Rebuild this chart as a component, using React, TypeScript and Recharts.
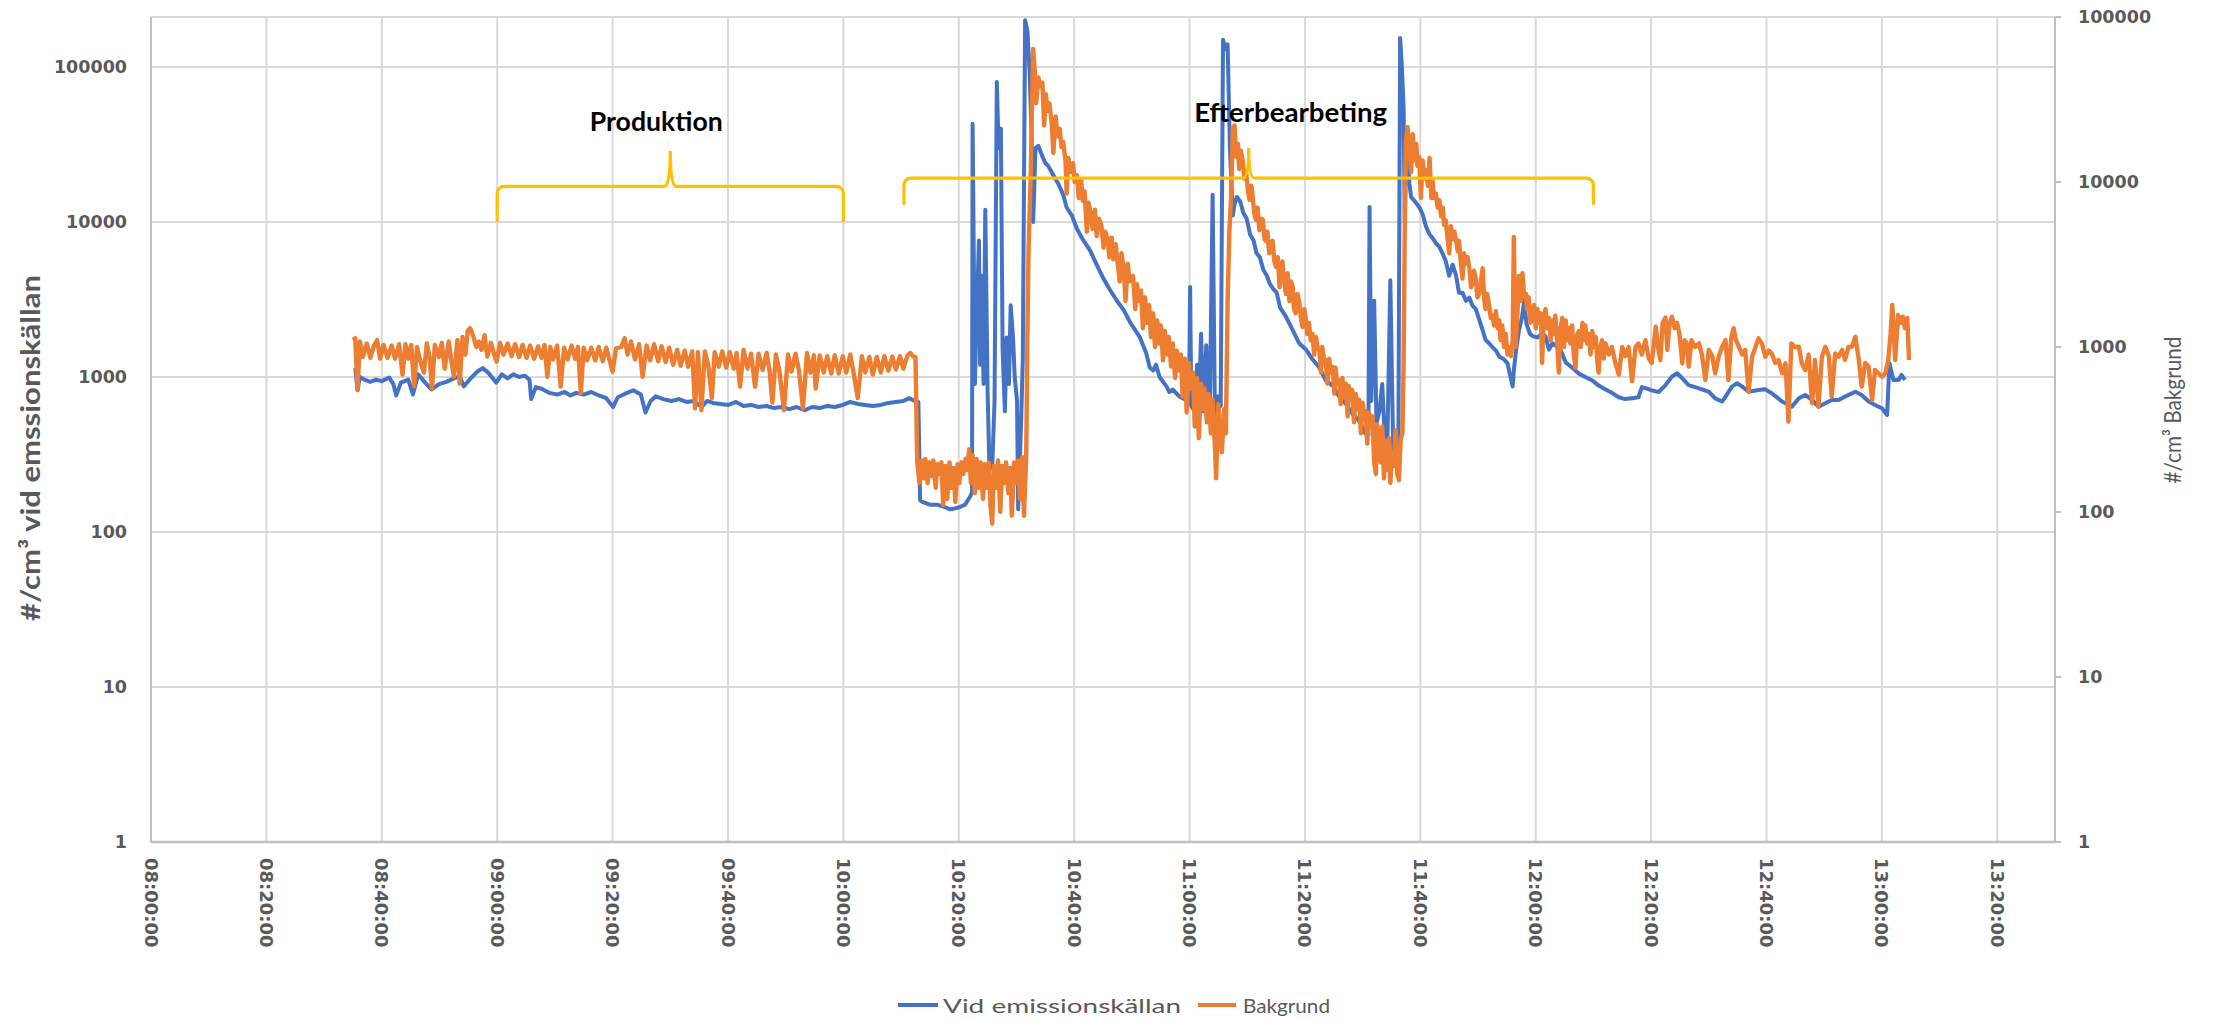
import { CartesianGrid, Line, LineChart, ReferenceLine, XAxis, YAxis } from "recharts"

// x positions are minutes after 08:00:00
const xTicks = [0, 20, 40, 60, 80, 100, 120, 140, 160, 180, 200, 220, 240, 260, 280, 300, 320]
const xTickLabels = [
  "08:00:00", "08:20:00", "08:40:00", "09:00:00", "09:20:00", "09:40:00", "10:00:00", "10:20:00",
  "10:40:00", "11:00:00", "11:20:00", "11:40:00", "12:00:00", "12:20:00", "12:40:00", "13:00:00", "13:20:00",
]
const leftTicks = [1, 10, 100, 1000, 10000, 100000]
const rightTicks = [1, 10, 100, 1000, 10000, 100000]

const seriesNames = ["Vid emissionskällan", "Bakgrund"]

const blueMinutes = [
  35.4, 35.8, 36.2, 37.0, 38.0, 39.0, 40.0, 41.3, 42.0, 42.5, 43.3, 44.6, 45.4, 46.3, 47.3, 48.6, 49.9, 51.2,
  52.5, 53.5, 54.2, 55.2, 56.5, 57.5, 58.5, 59.8, 60.8, 61.8, 62.8, 63.8, 64.8, 65.6, 65.9, 66.7, 67.7, 69.0,
  70.4, 71.7, 72.7, 73.7, 75.0, 76.3, 77.6, 78.9, 80.1, 80.9, 82.2, 83.6, 84.9, 85.7, 86.6, 87.5, 88.8, 90.2,
  91.5, 92.8, 94.1, 95.4, 96.4, 97.4, 98.7, 100.1, 101.4, 102.7, 104.0, 105.3, 106.7, 108.0, 109.3, 110.6,
  111.9, 113.3, 114.6, 115.9, 117.2, 118.5, 119.9, 121.2, 122.5, 123.8, 125.1, 126.5, 127.8, 129.1, 130.4,
  131.4, 132.4, 133.0, 133.3, 133.9, 135.0, 136.2, 137.3, 138.5, 139.4, 140.2, 141.1, 142.0, 142.3, 142.4,
  142.8, 143.1, 143.5, 143.7, 144.0, 144.3, 144.6, 145.0, 145.3, 145.8, 146.2, 146.6, 146.9, 147.3, 147.6,
  148.0, 148.3, 148.7, 149.0, 149.4, 149.7, 150.1, 150.3, 150.8, 151.1, 151.5, 151.9, 152.3, 152.6, 152.9,
  153.3, 153.8, 154.4, 155.0, 155.5, 156.4, 157.3, 158.1, 158.7, 159.6, 160.5, 161.6, 162.8, 163.9, 165.1,
  166.2, 167.4, 168.6, 169.7, 171.4, 172.5, 173.1, 173.7, 174.2, 174.8, 176.0, 176.5, 177.1, 178.3, 179.4,
  179.9, 180.1, 180.3, 180.9, 181.3, 181.6, 182.0, 182.4, 182.9, 183.5, 184.0, 184.4, 184.9, 185.4, 185.8,
  186.2, 186.6, 187.0, 187.5, 187.8, 188.2, 188.8, 189.3, 189.9, 190.5, 191.1, 191.6, 192.2, 192.8, 193.4,
  193.9, 194.5, 195.1, 195.7, 196.7, 197.9, 199.0, 200.2, 201.3, 202.5, 203.6, 204.8, 205.9, 207.1, 208.2,
  209.4, 210.5, 211.0, 211.2, 211.5, 212.0, 212.4, 212.9, 213.4, 213.8, 214.3, 214.8, 215.3, 215.7, 216.2,
  216.5, 216.8, 217.1, 217.3, 217.6, 218.1, 218.4, 219.1, 219.8, 220.4, 221.0, 221.6, 222.1, 222.7, 223.3,
  223.9, 224.4, 225.0, 225.6, 226.2, 226.7, 227.3, 227.9, 228.5, 229.0, 229.6, 230.2, 230.8, 231.3, 231.9,
  232.5, 233.1, 233.7, 234.5, 235.1, 235.5, 236.0, 236.2, 236.6, 237.1, 237.6, 238.0, 238.4, 239.0, 239.5,
  240.3, 241.1, 241.7, 242.3, 242.9, 243.4, 244.3, 245.2, 246.3, 247.5, 248.6, 249.8, 250.9, 252.1, 253.2,
  254.4, 255.5, 256.7, 257.8, 258.4, 259.3, 260.1, 261.3, 262.5, 263.6, 264.5, 265.4, 266.5, 268.3, 270.0,
  271.1, 272.3, 272.9, 274.0, 274.9, 275.8, 276.9, 278.6, 279.8, 280.9, 282.7, 284.4, 285.6, 286.7, 287.9,
  289.0, 290.2, 291.3, 292.5, 293.6, 295.4, 296.5, 297.7, 298.8, 300.0, 300.9, 301.3, 302.0, 302.9, 303.4, 304.0,
]
const blueValues = [
  1140, 820, 1000, 960, 930, 960, 940, 990, 900, 760, 920, 960, 770, 1040, 940, 830, 900, 930,
  980, 1010, 870, 960, 1080, 1140, 1060, 920, 1040, 980, 1040, 1000, 1020, 960, 720, 860, 840, 790,
  770, 800, 760, 790, 770, 800, 760, 730, 640, 740, 780, 820, 770, 590, 700, 750, 720, 700,
  720, 690, 700, 640, 700, 680, 670, 660, 690, 650, 660, 640, 650, 630, 640, 620,
  640, 610, 640, 630, 650, 640, 660, 690, 670, 660, 650, 660, 680, 690, 700,
  730, 700, 690, 160, 155, 150, 150, 146, 140, 142, 145, 150, 170, 180, 43000,
  900, 2500, 7600, 1200, 4500, 900, 12000, 800, 270, 260, 700, 80000, 30000, 40000, 1500,
  600, 1800, 900, 2900, 1800, 1000, 700, 140, 500, 1300, 200000, 170000, 90000, 40000, 10000,
  30000, 31000, 27000, 24000, 23000, 20000, 17500, 15000, 12400, 11000, 9000, 7600, 6500, 5300, 4300,
  3650, 3100, 2700, 2250, 1800, 1420, 1150, 1100, 1200, 1000, 870, 800, 830, 745, 710,
  680, 3800, 650, 600, 1200, 650, 1900, 600, 1600, 560, 15000, 550, 750, 650, 150000,
  130000, 140000, 30000, 11000, 13000, 14500, 13500, 11500, 10500, 8300, 7600, 6300, 5900, 4900, 4500,
  4000, 3700, 3500, 2800, 2450, 2000, 1650, 1500, 1300, 1150, 950, 880, 750, 670, 580,
  520, 430, 420, 12500, 700, 3100, 500, 600, 900, 430, 400, 4200, 330, 330, 400,
  154000, 100000, 55000, 10000, 37000, 17800, 14500, 13500, 12500, 11200, 9300, 8300, 7900, 7300, 6900,
  6200, 5600, 4500, 5300, 4500, 3500, 3500, 3100, 3250, 2900, 2750, 2350, 2000, 1740, 1650,
  1560, 1480, 1350, 1300, 1230, 1050, 870, 1100, 1500, 2000, 2400, 3100, 2200, 1900, 1830,
  1800, 1900, 1830, 1500, 1650, 1600, 1500, 1240, 1150, 1050, 1000, 950, 880, 830, 790,
  740, 720, 730, 740, 860, 840, 820, 800, 887, 1005, 1057, 981, 887, 845, 803,
  728, 694, 747, 867, 910, 867, 803, 825, 832, 785, 694, 644, 728, 765, 711,
  644, 677, 711, 711, 747, 803, 765, 694, 659, 628, 569, 1224, 957, 957, 1031, 957,
]

const orangeMinutes = [
  35.0, 35.4, 35.8, 36.2, 36.7, 37.4, 38.0, 38.7, 39.2, 39.7, 40.3, 41.0, 41.7, 42.3, 43.0, 43.6, 44.1, 44.6,
  45.1, 45.6, 46.1, 46.6, 47.3, 47.8, 48.3, 48.7, 49.2, 49.9, 50.4, 50.9, 51.6, 52.0, 52.5, 53.1, 53.5, 54.0,
  54.5, 54.9, 55.3, 55.8, 56.4, 56.8, 57.3, 57.8, 58.3, 58.9, 59.5, 59.9, 60.5, 61.1, 61.8, 62.5, 63.1, 63.8,
  64.4, 65.1, 65.7, 66.4, 67.1, 67.7, 68.2, 68.7, 69.2, 69.7, 70.4, 71.0, 71.6, 72.2, 72.9, 73.5, 74.0, 74.5,
  75.0, 75.6, 76.3, 77.0, 77.6, 78.3, 78.9, 79.5, 80.0, 80.6, 81.5, 82.1, 82.6, 83.2, 83.9, 84.6, 85.2, 85.9,
  86.5, 87.2, 87.9, 88.5, 89.2, 89.8, 90.5, 91.2, 91.8, 92.5, 93.1, 93.8, 94.3, 94.8, 95.4, 96.0, 96.6, 97.2,
  97.7, 98.4, 99.0, 99.7, 100.3, 101.0, 101.5, 102.1, 102.7, 103.4, 104.0, 104.7, 105.3, 106.0, 106.7, 107.2,
  107.7, 108.3, 108.9, 109.7, 110.4, 111.0, 111.7, 112.3, 113.0, 113.7, 114.3, 114.9, 115.2, 115.9, 116.6,
  117.2, 117.9, 118.5, 119.2, 119.9, 120.5, 121.2, 121.8, 122.5, 123.2, 123.8, 124.5, 125.1, 125.8, 126.5,
  127.1, 127.8, 128.5, 129.1, 129.8, 130.4, 131.1, 131.6, 132.1, 132.5, 132.8, 133.2, 133.5, 133.9, 134.2,
  134.6, 134.9, 135.3, 135.6, 136.0, 136.3, 136.6, 137.0, 137.3, 137.7, 138.0, 138.4, 138.7, 139.1, 139.4,
  139.8, 140.1, 140.5, 140.8, 141.2, 141.5, 141.8, 142.1, 142.4, 142.8, 143.1, 143.5, 143.8, 144.2, 144.5,
  144.9, 145.2, 145.5, 145.8, 146.1, 146.5, 146.8, 147.2, 147.5, 147.9, 148.2, 148.6, 148.9, 149.2, 149.6,
  149.9, 150.3, 150.6, 151.0, 151.3, 151.7, 151.9, 152.1, 152.5, 152.7, 152.9, 153.2, 153.4, 153.8, 154.1,
  154.5, 154.8, 155.1, 155.4, 155.7, 156.1, 156.4, 156.8, 157.1, 157.5, 157.8, 158.1, 158.5, 158.7, 159.0,
  159.4, 159.8, 160.1, 160.5, 160.8, 161.2, 161.5, 161.8, 162.2, 162.5, 162.9, 163.2, 163.6, 163.9, 164.3,
  164.7, 165.1, 165.4, 165.8, 166.1, 166.5, 166.8, 167.2, 167.5, 167.9, 168.2, 168.6, 168.9, 169.3, 169.6,
  170.2, 170.6, 170.9, 171.2, 171.6, 171.9, 172.3, 172.6, 173.0, 173.3, 173.7, 174.0, 174.4, 174.7, 175.0,
  175.4, 175.7, 176.1, 176.4, 176.8, 177.1, 177.5, 177.8, 178.2, 178.5, 178.8, 179.2, 179.5, 179.9, 180.2,
  180.6, 180.9, 181.3, 181.6, 182.0, 182.3, 182.6, 183.0, 183.3, 183.7, 184.0, 184.4, 184.6, 185.0, 185.3,
  185.6, 186.0, 186.3, 186.6, 186.9, 187.2, 187.5, 187.8, 188.1, 188.4, 188.6, 188.9, 189.2, 189.5, 189.8,
  190.1, 190.4, 190.7, 190.9, 191.2, 191.5, 191.8, 192.1, 192.4, 192.7, 193.0, 193.2, 193.5, 193.8, 194.1,
  194.4, 194.7, 195.0, 195.3, 195.6, 195.8, 196.1, 196.4, 196.7, 197.0, 197.3, 197.6, 197.9, 198.1, 198.4,
  198.7, 199.0, 199.3, 199.6, 199.9, 200.2, 200.4, 200.7, 201.0, 201.3, 201.6, 201.9, 202.2, 202.5, 202.8,
  203.0, 203.3, 203.6, 203.9, 204.2, 204.5, 204.8, 205.1, 205.3, 205.6, 205.9, 206.2, 206.5, 206.8, 207.1,
  207.4, 207.6, 207.9, 208.2, 208.5, 208.8, 209.1, 209.4, 209.7, 210.0, 210.2, 210.5, 210.8, 211.1, 211.4,
  211.7, 212.0, 212.3, 212.5, 212.8, 213.1, 213.4, 213.7, 214.0, 214.3, 214.6, 214.8, 215.1, 215.4, 215.7,
  216.0, 216.3, 216.6, 216.9, 217.1, 217.3, 217.5, 217.8, 218.1, 218.4, 218.7, 219.0, 219.3, 219.5, 219.8,
  220.1, 220.4, 220.7, 221.0, 221.3, 221.6, 221.9, 222.1, 222.4, 222.7, 223.0, 223.3, 223.6, 223.9, 224.1,
  224.4, 224.7, 225.0, 225.3, 225.6, 225.9, 226.2, 226.5, 226.7, 227.0, 227.3, 227.6, 227.9, 228.2, 228.5,
  228.8, 229.0, 229.3, 229.6, 229.9, 230.2, 230.5, 230.8, 231.1, 231.3, 231.6, 231.9, 232.2, 232.5, 232.8,
  233.1, 233.4, 233.7, 233.9, 234.2, 234.5, 234.8, 235.1, 235.4, 235.7, 236.0, 236.2, 236.5, 236.8, 237.1,
  237.4, 237.7, 238.0, 238.3, 238.5, 238.8, 239.1, 239.4, 239.7, 240.0, 240.3, 240.6, 240.9, 241.1, 241.4,
  241.7, 242.0, 242.3, 242.6, 242.9, 243.2, 243.4, 243.7, 244.0, 244.3, 244.6, 244.9, 245.2, 245.5, 245.7,
  246.0, 246.3, 246.6, 246.9, 247.2, 247.5, 247.8, 248.1, 248.3, 248.6, 248.9, 249.2, 249.5, 249.8, 250.1,
  250.4, 250.7, 250.9, 251.2, 251.5, 251.8, 252.1, 252.7, 253.2, 253.8, 254.4, 255.0, 255.5, 256.1, 256.7,
  257.3, 257.8, 258.4, 259.0, 259.6, 260.1, 260.8, 261.2, 261.6, 262.0, 262.5, 262.8, 263.2, 263.6, 264.1,
  264.5, 264.9, 265.4, 265.8, 266.2, 266.5, 267.0, 267.6, 268.3, 268.8, 269.4, 270.0, 270.6, 271.1, 271.7,
  272.3, 272.9, 273.4, 273.9, 274.3, 274.7, 275.2, 275.8, 276.3, 276.9, 277.5, 278.1, 278.6, 279.2, 279.8,
  280.4, 280.9, 281.5, 282.1, 282.7, 283.3, 283.8, 284.3, 284.9, 285.6, 286.1, 286.7, 287.3, 287.9, 288.4,
  289.0, 289.6, 290.2, 290.8, 291.3, 291.9, 292.5, 293.1, 293.6, 294.2, 294.8, 295.4, 296.0, 296.5, 297.1,
  297.7, 298.3, 298.8, 299.4, 300.0, 300.6, 301.1, 301.5, 301.8, 302.3, 302.8, 303.2, 303.6, 304.0, 304.4, 304.7,
]
const orangeValues = [
  1100, 1130, 550, 1080, 870, 1050, 860, 1030, 1100, 850, 1030, 860, 1020, 850, 1040, 680, 1040, 850,
  1030, 580, 1000, 840, 700, 1050, 860, 560, 1030, 870, 1060, 740, 1080, 850, 660, 1100, 600, 1150,
  900, 1250, 1300, 1180, 1000, 1080, 960, 1180, 875, 1060, 900, 815, 1060, 900, 1050, 880, 1040, 870,
  1030, 860, 1020, 850, 1010, 860, 1030, 660, 1000, 840, 1020, 575, 990, 840, 1020, 850, 1000, 525,
  990, 830, 990, 830, 1000, 820, 990, 830, 710, 980, 1000, 1130, 900, 1080, 840, 1040, 660, 1020,
  830, 1040, 820, 1010, 810, 990, 780, 960, 770, 950, 760, 940, 425, 930, 415, 940, 770, 490,
  930, 760, 940, 750, 930, 740, 920, 575, 960, 740, 910, 575, 910, 725, 920, 720,
  460, 900, 720, 415, 900, 710, 910, 720, 425, 920, 700, 890, 560, 890, 700,
  880, 690, 890, 690, 880, 700, 900, 690, 490, 880, 700, 870, 680, 870, 700,
  880, 720, 875, 730, 880, 740, 890, 920, 875, 870, 200, 150, 205, 160, 210,
  150, 200, 165, 205, 140, 195, 170, 200, 110, 190, 120, 200, 140, 185, 115,
  195, 150, 200, 170, 210, 180, 240, 150, 220, 130, 210, 140, 200, 120, 195,
  140, 200, 110, 85, 190, 140, 205, 100, 190, 150, 200, 130, 185, 95, 200,
  150, 205, 120, 215, 95, 220, 1200, 3900, 12000, 30000, 64000, 46000, 30000, 43000, 38000,
  40000, 22000, 34000, 27000, 30000, 23000, 15000, 25000, 18900, 21000, 16300, 17500, 13400, 8500, 14000,
  11500, 13000, 10000, 11000, 8000, 10400, 7700, 8800, 5000, 7500, 6300, 5200, 6800, 4700, 6000,
  5500, 4000, 5000, 4500, 3500, 4600, 3400, 4200, 3300, 2500, 3700, 3000, 1900, 3200, 2500,
  2700, 1700, 2400, 1900, 2200, 1300, 2000, 1400, 1800, 1150, 1600, 1000, 1450, 1050, 1350,
  830, 1250, 900, 1150, 760, 1050, 650, 950, 720, 900, 500, 850, 400, 800, 560,
  700, 330, 650, 280, 600, 420, 560, 350, 520, 300, 480, 250, 160, 450, 300,
  230, 420, 300, 1900, 5000, 8000, 21500, 22000, 14200, 17000, 12000, 15500, 13500, 10500, 11500,
  9000, 7800, 9500, 8500, 6500, 5900, 7000, 5100, 6000, 5900, 4500, 4400, 5000, 3700, 4200,
  4400, 3300, 3050, 3500, 2300, 3000, 3300, 2500, 2100, 2800, 1900, 2500, 2300, 1700, 1600,
  2100, 1900, 1500, 1320, 1700, 1450, 1200, 1400, 1100, 1200, 900, 1150, 1000, 950, 700,
  1000, 850, 830, 600, 850, 700, 757, 520, 750, 600, 630, 450, 650, 500, 600,
  380, 580, 480, 550, 350, 520, 420, 480, 300, 460, 380, 410, 260, 400, 330,
  380, 200, 170, 340, 300, 200, 330, 160, 270, 180, 280, 150, 230, 190, 313,
  170, 156, 280, 300, 800, 5000, 18000, 21500, 16300, 11500, 19500, 13500, 17000, 12500, 14200,
  8000, 13500, 10500, 11800, 9500, 14000, 8000, 10200, 8000, 8500, 7000, 7750, 6200, 7000, 5500,
  5860, 4600, 3700, 5400, 4500, 5000, 4400, 3800, 4400, 3300, 2600, 3700, 3200, 3500, 3000,
  2300, 2400, 2900, 2600, 2000, 2100, 2500, 3000, 1900, 1700, 2100, 1800, 1500, 1550, 1350,
  1650, 1300, 1450, 1100, 1350, 1000, 1200, 900, 1000, 880, 1100, 4650, 1000, 1500, 2700,
  1900, 2800, 2000, 2100, 1700, 2000, 1400, 1500, 1800, 1300, 1700, 1400, 1600, 800, 1500,
  1700, 1300, 1500, 1100, 1450, 1200, 1550, 1100, 700, 1300, 1500, 1000, 1450, 1100, 1300,
  1050, 1350, 900, 750, 1200, 1250, 1000, 1400, 1100, 1350, 1050, 1200, 900, 1250, 1000,
  1150, 800, 700, 1000, 1100, 850, 1050, 900, 1000, 800, 680, 1000, 880, 1000, 620,
  1000, 1050, 900, 1100, 850, 800, 1328, 1000, 834, 1400, 1510, 959, 1390, 1527, 1300,
  1400, 1200, 796, 1100, 1050, 760, 1100, 1000, 1052, 900, 631, 959, 880, 693, 874,
  1000, 1100, 631, 1150, 1300, 1100, 1004, 900, 959, 536, 874, 1000, 1128, 1050, 874,
  950, 915, 800, 834, 693, 796, 353, 1052, 1000, 1004, 800, 726, 900, 456, 834,
  435, 874, 1004, 880, 500, 915, 874, 959, 834, 1000, 1004, 1155, 834, 575, 800,
  760, 477, 726, 693, 661, 693, 834, 1200, 1800, 834, 1565, 1400, 1527, 1300, 1500, 834,
]

const blueData = blueMinutes.map((t, i) => ({ t, v: blueValues[i] }))
const orangeData = orangeMinutes.map((t, i) => ({ t, v: orangeValues[i] }))

// curly brackets drawn over the plot, in axis units (left axis)
const brackets = [
  { label: "Produktion", from: 60, to: 120, bottom: 10000, peak: 28700, level: 0.5, dx: -14, dy: -29, textWidth: 133 },
  { label: "Efterbearbeting", from: 130.5, to: 250, bottom: 12900, peak: 30000, level: 0.47, dx: 42, dy: -35, textWidth: 193 },
]

const BLUE = "#4472C4"
const ORANGE = "#ED7D31"
const YELLOW = "#FFC000"
const GREY = "#595959"

function XTick({ x, y, payload }: any) {
  const label = xTickLabels[xTicks.indexOf(payload.value)]
  return (
    <text
      x={x}
      y={y}
      dy="0.36em"
      transform={`rotate(90, ${x}, ${y})`}
      textAnchor="start"
      fontFamily="DejaVu Sans"
      fontWeight="bold"
      fontSize={18}
      fill={GREY}
    >
      {label}
    </text>
  )
}

function YTick({ x, y, payload, anchor }: any) {
  return (
    <text x={x} y={y} dy="0.36em" textAnchor={anchor} fontFamily="DejaVu Sans" fontWeight="bold" fontSize={17.5} fill={GREY}>
      {payload.value}
    </text>
  )
}

function bracketShape(b: (typeof brackets)[number]) {
  return (props: any) => {
    const { x1, y1, x2, y2 } = props
    const yB = y1
    const yT = y2
    const yH = yB - b.level * (yB - yT)
    const xp = (x1 + x2) / 2
    const r = 8
    const d = [
      `M ${x1} ${yB}`,
      `L ${x1} ${yH + r}`,
      `Q ${x1} ${yH} ${x1 + r} ${yH}`,
      `L ${xp - 6} ${yH}`,
      `Q ${xp} ${yH} ${xp} ${yT}`,
      `Q ${xp} ${yH} ${xp + 6} ${yH}`,
      `L ${x2 - r} ${yH}`,
      `Q ${x2} ${yH} ${x2} ${yH + r}`,
      `L ${x2} ${yB}`,
    ].join(" ")
    return (
      <g>
        <path d={d} fill="none" stroke={YELLOW} strokeWidth={3.2} />
        <text
          x={xp + b.dx}
          y={yT + b.dy}
          dy="0.35em"
          textAnchor="middle"
          fontFamily="Lato"
          fontWeight="bold"
          fontSize={26}
          fill="#000"
          textLength={b.textWidth}
          lengthAdjust="spacingAndGlyphs"
        >
          {b.label}
        </text>
      </g>
    )
  }
}

export default function App() {
  return (
    <div style={{ position: "absolute", left: 0, top: 0, width: 2214, height: 1021, background: "#fff" }}>
      <LineChart width={2214} height={1021} margin={{ top: 17, right: 0, bottom: 0, left: 0 }}>
        <CartesianGrid yAxisId="left" stroke="#d9d9d9" strokeWidth={2} />
        <XAxis
          dataKey="t"
          type="number"
          domain={[0, 330]}
          ticks={xTicks}
          interval={0}
          height={179}
          tickLine={false}
          tickSize={0}
          tickMargin={16}
          axisLine={{ stroke: "#bfbfbf", strokeWidth: 2.5 }}
          tick={<XTick />}
          allowDataOverflow
        />
        <YAxis
          yAxisId="left"
          orientation="left"
          scale="log"
          domain={[1, 210000]}
          ticks={leftTicks}
          interval={0}
          width={151}
          tickLine={false}
          tickSize={0}
          tickMargin={24}
          axisLine={{ stroke: "#bfbfbf", strokeWidth: 2 }}
          tick={<YTick anchor="end" />}
          allowDataOverflow
        />
        <YAxis
          yAxisId="right"
          orientation="right"
          scale="log"
          domain={[1, 100000]}
          ticks={rightTicks}
          interval={0}
          width={159}
          tickSize={6}
          tickMargin={17}
          tickLine={{ stroke: "#bfbfbf", strokeWidth: 2 }}
          axisLine={{ stroke: "#bfbfbf", strokeWidth: 2 }}
          tick={<YTick anchor="start" />}
          allowDataOverflow
        />
        <Line
          yAxisId="left"
          data={blueData}
          dataKey="v"
          name={seriesNames[0]}
          stroke={BLUE}
          strokeWidth={4}
          dot={false}
          strokeLinejoin="round"
          isAnimationActive={false}
        />
        <Line
          yAxisId="right"
          data={orangeData}
          dataKey="v"
          name={seriesNames[1]}
          stroke={ORANGE}
          strokeWidth={4.4}
          dot={false}
          strokeLinejoin="round"
          isAnimationActive={false}
        />
        {brackets.map((b) => (
          <ReferenceLine
            key={b.label}
            yAxisId="left"
            segment={[
              { x: b.from, y: b.bottom },
              { x: b.to, y: b.peak },
            ]}
            shape={bracketShape(b)}
          />
        ))}
      </LineChart>
      <svg width={2214} height={1021} style={{ position: "absolute", left: 0, top: 0, pointerEvents: "none" }}>
        <text
          transform="translate(30, 448) rotate(-90)"
          textAnchor="middle"
          dominantBaseline="central"
          fontFamily="Lato"
          fontWeight="bold"
          fontSize={26}
          fill={GREY}
          textLength={346}
          lengthAdjust="spacingAndGlyphs"
        >
          #/cm³ vid emssionskällan
        </text>
        <text
          transform="translate(2172, 410) rotate(-90)"
          textAnchor="middle"
          dominantBaseline="central"
          fontFamily="Lato"
          fontSize={23}
          fill={GREY}
          textLength={147}
          lengthAdjust="spacingAndGlyphs"
        >
          #/cm³ Bakgrund
        </text>
        <line x1={898} x2={938} y1={1005} y2={1005} stroke={BLUE} strokeWidth={4} />
        <text x={943} y={1005} dominantBaseline="central" fontFamily="Lato" fontSize={20} fill={GREY} textLength={238} lengthAdjust="spacingAndGlyphs">
          {seriesNames[0]}
        </text>
        <line x1={1198} x2={1236} y1={1005} y2={1005} stroke={ORANGE} strokeWidth={4} />
        <text x={1243} y={1005} dominantBaseline="central" fontFamily="Lato" fontSize={20} fill={GREY} textLength={87} lengthAdjust="spacingAndGlyphs">
          {seriesNames[1]}
        </text>
      </svg>
    </div>
  )
}
